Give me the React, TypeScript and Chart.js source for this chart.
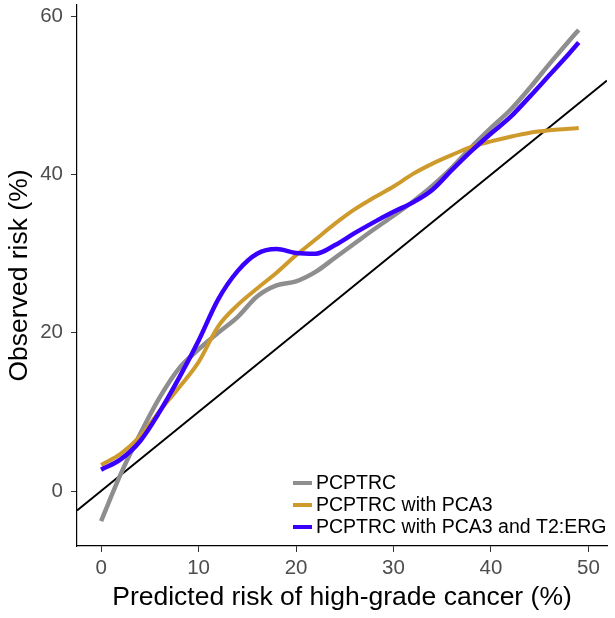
import React, { useEffect, useRef } from "react";
import { Chart, registerables } from "chart.js";

Chart.register(...registerables);

const xValues = [0, 2, 4, 6, 8, 10, 12, 14, 16, 18, 20, 22, 24, 26, 28, 30, 32, 34, 36, 38, 40, 42, 44, 46, 48, 49];
const pcptrc = [-3.8, 2.1, 7.2, 11.8, 15.5, 17.9, 20.0, 22.0, 24.6, 26.0, 26.5, 27.7, 29.5, 31.3, 33.1, 34.8, 36.6, 38.6, 40.9, 43.5, 45.9, 48.2, 51.0, 54.0, 56.9, 58.3];
const pcptrcPca3 = [3.3, 4.7, 6.9, 10.1, 13.1, 16.3, 20.8, 23.5, 25.6, 27.6, 29.8, 31.8, 33.8, 35.6, 37.1, 38.5, 40.1, 41.4, 42.5, 43.5, 44.2, 44.8, 45.3, 45.6, 45.8, 45.9];
const pcptrcPca3Erg = [2.7, 4.0, 6.3, 10.0, 14.3, 19.0, 24.2, 27.8, 30.0, 30.6, 30.1, 30.0, 31.1, 32.6, 34.0, 35.3, 36.5, 38.1, 40.6, 43.0, 45.2, 47.3, 49.9, 52.6, 55.3, 56.7];
const seriesLabels = ["PCPTRC", "PCPTRC with PCA3", "PCPTRC with PCA3 and T2:ERG"];
const xTicks = [0, 10, 20, 30, 40, 50];
const yTicks = [0, 20, 40, 60];
const xMin = -2.47;
const xMax = 51.9;
const yMin = -6.95;
const yMax = 61.45;
const identityX = [xMin, xMax];

const FONT = "'Liberation Sans', Arial, sans-serif";
const colors = ["#8e8e8e", "#cf9a2c", "#3a00ff"];

const legendPlugin = {
  id: "insideLegend",
  afterDatasetsDraw(chart: any) {
    const ctx = chart.ctx;
    const area = chart.chartArea;
    const left = area.right - 314;
    const rows = [area.bottom - 63, area.bottom - 41, area.bottom - 19];
    ctx.save();
    ctx.font = `19.5px ${FONT}`;
    ctx.textBaseline = "middle";
    ctx.textAlign = "left";
    seriesLabels.forEach((lab, i) => {
      const y = rows[i];
      ctx.strokeStyle = colors[i];
      ctx.lineWidth = 4;
      ctx.lineCap = "butt";
      ctx.beginPath();
      ctx.moveTo(left, y);
      ctx.lineTo(left + 19, y);
      ctx.stroke();
      ctx.fillStyle = "#000";
      ctx.fillText(lab, left + 23, y + 1);
    });
    ctx.restore();
  },
};

export default function App() {
  const ref = useRef<HTMLCanvasElement>(null);
  useEffect(() => {
    if (!ref.current) return;
    const mk = (ys: number[]) => xValues.map((x, i) => ({ x, y: ys[i] }));
    const chart = new Chart(ref.current, {
      type: "line",
      data: {
        datasets: [
          {
            label: seriesLabels[2],
            data: mk(pcptrcPca3Erg),
            borderColor: colors[2],
            borderWidth: 4.5,
            pointRadius: 0,
            cubicInterpolationMode: "monotone",
            borderCapStyle: "butt",
            order: 1,
          },
          {
            label: seriesLabels[1],
            data: mk(pcptrcPca3),
            borderColor: colors[1],
            borderWidth: 4,
            pointRadius: 0,
            cubicInterpolationMode: "monotone",
            borderCapStyle: "butt",
            order: 2,
          },
          {
            label: seriesLabels[0],
            data: mk(pcptrc),
            borderColor: colors[0],
            borderWidth: 4.5,
            pointRadius: 0,
            cubicInterpolationMode: "monotone",
            borderCapStyle: "butt",
            order: 3,
          },
          {
            label: "identity",
            data: identityX.map((v) => ({ x: v, y: v })),
            borderColor: "#000",
            borderWidth: 2,
            pointRadius: 0,
            order: 4,
          },
        ],
      },
      options: {
        responsive: false,
        animation: false,
        layout: { padding: { left: 0, top: 5, right: 8, bottom: 0 } },
        plugins: { legend: { display: false }, tooltip: { enabled: false } },
        scales: {
          x: {
            type: "linear",
            min: xMin,
            max: xMax,
            afterBuildTicks: (s: any) => {
              s.ticks = xTicks.map((v) => ({ value: v }));
            },
            afterFit: (s: any) => {
              s.height = 72;
              s.paddingLeft = 0;
              s.paddingRight = 0;
            },
            grid: { drawOnChartArea: false, drawTicks: true, tickLength: 6, color: "#333", lineWidth: 1 },
            border: { display: true, color: "#000", width: 1.2 },
            ticks: { color: "#4d4d4d", font: { family: FONT, size: 20.5 }, padding: 4, maxRotation: 0 },
            title: {
              display: true,
              text: "Predicted risk of high-grade cancer (%)",
              color: "#000",
              font: { family: FONT, size: 26.5 },
              padding: { top: 0, bottom: 4 },
            },
          },
          y: {
            type: "linear",
            min: yMin,
            max: yMax,
            afterBuildTicks: (s: any) => {
              s.ticks = yTicks.map((v) => ({ value: v }));
            },
            afterFit: (s: any) => {
              s.width = 77;
              s.paddingTop = 0;
              s.paddingBottom = 0;
            },
            grid: { drawOnChartArea: false, drawTicks: true, tickLength: 6, color: "#333", lineWidth: 1 },
            border: { display: true, color: "#000", width: 1.2 },
            ticks: { color: "#4d4d4d", font: { family: FONT, size: 20.5 }, padding: 8 },
            title: {
              display: true,
              text: "Observed risk (%)",
              color: "#000",
              font: { family: FONT, size: 26.5 },
              padding: { top: 4, bottom: 0 },
            },
          },
        },
      },
      plugins: [legendPlugin],
    } as any);
    return () => chart.destroy();
  }, []);
  return (
    <div style={{ position: "absolute", left: 0, top: 0, width: 615, height: 618, background: "#fff" }}>
      <canvas ref={ref} width={615} height={618} style={{ display: "block" }} />
    </div>
  );
}
